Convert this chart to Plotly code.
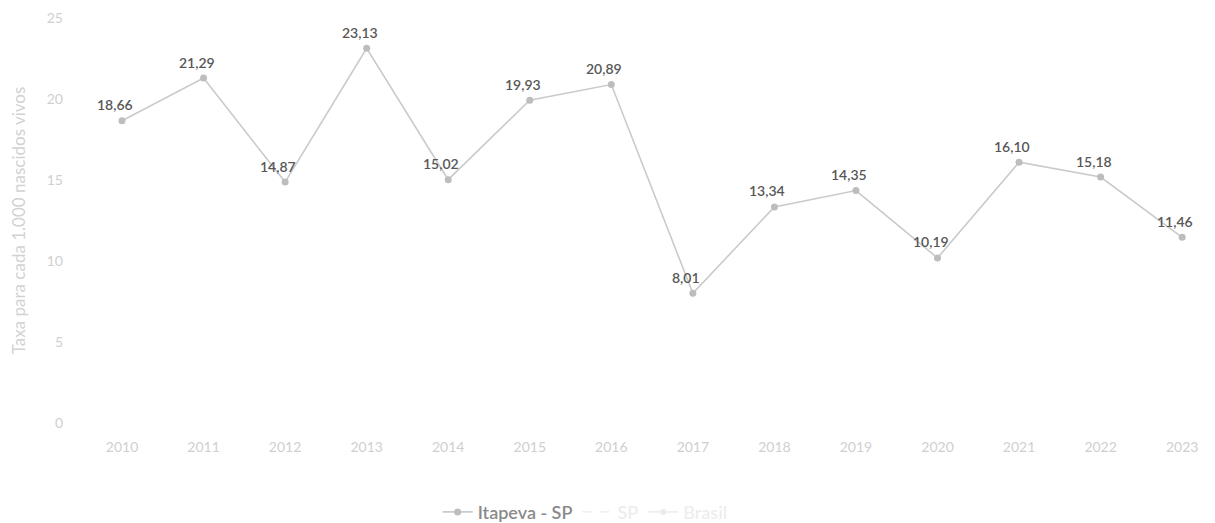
import plotly.graph_objects as go

years = ["2010", "2011", "2012", "2013", "2014", "2015", "2016",
         "2017", "2018", "2019", "2020", "2021", "2022", "2023"]
itapeva = [18.66, 21.29, 14.87, 23.13, 15.02, 19.93, 20.89,
           8.01, 13.34, 14.35, 10.19, 16.10, 15.18, 11.46]
# SP and Brasil series are hidden (legend-only) in the reference; their values are not visible
sp_values = [None] * len(years)
brasil_values = [None] * len(years)
y_ticks = [0, 5, 10, 15, 20, 25]

FONT = "Lato"
FADED = "<span style='color:#dcdcdc'>{}</span>"

fig = go.Figure()
fig.add_trace(go.Scatter(
    x=years, y=itapeva, name="Itapeva - SP", mode="lines+markers",
    line=dict(color="#cacaca", width=1.6),
    marker=dict(color="#bdbdbd", size=7),
))
fig.add_trace(go.Scatter(
    x=years, y=sp_values, name=FADED.format("SP"), mode="lines",
    line=dict(color="#d8d8d8", width=1.4, dash="dash"),
    visible="legendonly",
))
fig.add_trace(go.Scatter(
    x=years, y=brasil_values, name=FADED.format("Brasil"), mode="lines+markers",
    line=dict(color="#d8d8d8", width=1.4),
    marker=dict(color="#d8d8d8", size=6),
    visible="legendonly",
))

for i, v in enumerate(itapeva):
    fig.add_annotation(
        x=i, y=v, xref="x", yref="y",
        text=f"{v:.2f}".replace(".", ","),
        showarrow=False, xshift=-7, yshift=16,
        font=dict(family=FONT, size=14, color="#575757", weight=600),
    )

fig.update_layout(
    width=1207, height=515,
    paper_bgcolor="white", plot_bgcolor="white",
    margin=dict(l=72, r=10, t=10, b=100, autoexpand=False),
    font=dict(family=FONT, color="#cfcfcf"),
    showlegend=True,
    legend=dict(
        orientation="h", x=0.449, xanchor="center",
        yref="container", y=0.021, yanchor="middle",
        font=dict(family=FONT, size=18, color="#8a8a8a", weight=600),
        itemwidth=30,
    ),
    xaxis=dict(
        type="category", categoryorder="array", categoryarray=years,
        range=[-0.515, 13.28],
        showgrid=False, zeroline=False, showline=False,
        ticks="", ticklabelstandoff=14,
        tickfont=dict(family=FONT, size=14, color="#cfcfcf"),
    ),
    yaxis=dict(
        range=[0, 25], tickvals=y_ticks,
        showgrid=False, zeroline=False, showline=False,
        ticks="", ticklabelstandoff=16,
        tickfont=dict(family=FONT, size=14, color="#cfcfcf"),
        title=dict(text="Taxa para cada 1.000 nascidos vivos",
                   font=dict(family=FONT, size=17, color="#d2d2d2"),
                   standoff=18),
    ),
)

fig.write_html("out.html")
